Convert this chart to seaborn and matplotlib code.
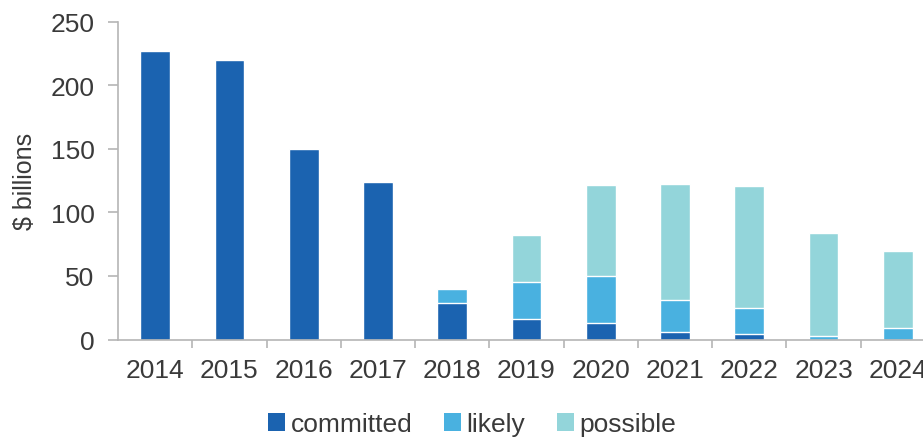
import matplotlib
matplotlib.use("Agg")
import matplotlib.pyplot as plt
from matplotlib.patches import Patch
from matplotlib.ticker import FixedLocator
import seaborn as sns
import pandas as pd
import numpy as np

years = ["2014", "2015", "2016", "2017", "2018", "2019", "2020", "2021", "2022", "2023", "2024"]
committed = [227, 220, 150, 124, 29, 16, 13, 6, 4, 0, 0]
likely = [0, 0, 0, 0, 11, 29, 37, 25, 20.5, 2.5, 9]
possible = [0, 0, 0, 0, 0, 37, 71.5, 91, 96, 81, 60.5]
series_names = ["committed", "likely", "possible"]
colors = {"committed": "#1b63b0", "likely": "#49b1e0", "possible": "#93d5da"}

sns.set_theme(style="white")
plt.rcParams["font.family"] = ["Liberation Sans", "DejaVu Sans"]
text_color = "#3a3a3a"

df = pd.DataFrame({"year": years, "committed": committed, "likely": likely, "possible": possible})
df["c_top"] = df["committed"]
df["l_top"] = df["committed"] + df["likely"]
df["p_top"] = df["l_top"] + df["possible"]

fig = plt.figure(figsize=(9.23, 4.39), dpi=100)
ax = fig.add_axes([118 / 923, (439 - 340.5) / 439, 817 / 923, 318 / 439])

sns.barplot(data=df, x="year", y="p_top", order=years, color=colors["possible"],
            width=0.4, saturation=1, ax=ax, errorbar=None)
sns.barplot(data=df, x="year", y="l_top", order=years, color=colors["likely"],
            width=0.4, saturation=1, ax=ax, errorbar=None)
sns.barplot(data=df, x="year", y="c_top", order=years, color=colors["committed"],
            width=0.4, saturation=1, ax=ax, errorbar=None)

ax.set_xlim(-0.5, len(years) - 0.5)
ax.set_ylim(0, 250)
ax.set_yticks([0, 50, 100, 150, 200, 250])
ax.set_xlabel("")
ax.set_ylabel("$ billions", fontsize=18, color=text_color, labelpad=10)

for s in ["top", "right"]:
    ax.spines[s].set_visible(False)
for s in ["left", "bottom"]:
    ax.spines[s].set_color("#b5b5b5")
    ax.spines[s].set_linewidth(1.2)

ax.tick_params(axis="y", which="major", direction="out", length=7, width=1.2,
               color="#b5b5b5", labelsize=19, labelcolor=text_color, pad=10, left=True)
ax.tick_params(axis="x", which="major", length=0, labelsize=19, labelcolor=text_color, pad=13)
ax.xaxis.set_minor_locator(FixedLocator(np.arange(0.5, len(years) - 0.5, 1.0)))
ax.tick_params(axis="x", which="minor", direction="out", length=6, width=1.2,
               color="#b5b5b5", bottom=True)

handles = [Patch(facecolor=colors[n], edgecolor="none", label=n) for n in series_names]
fig.legend(handles=handles, loc="center", bbox_to_anchor=(472 / 923, 1 - 425 / 439),
           ncol=3, frameon=False, fontsize=19, handlelength=0.65, handleheight=0.65,
           handletextpad=0.2, columnspacing=1.2, labelcolor=text_color)

fig.savefig("out.png", dpi=100)
